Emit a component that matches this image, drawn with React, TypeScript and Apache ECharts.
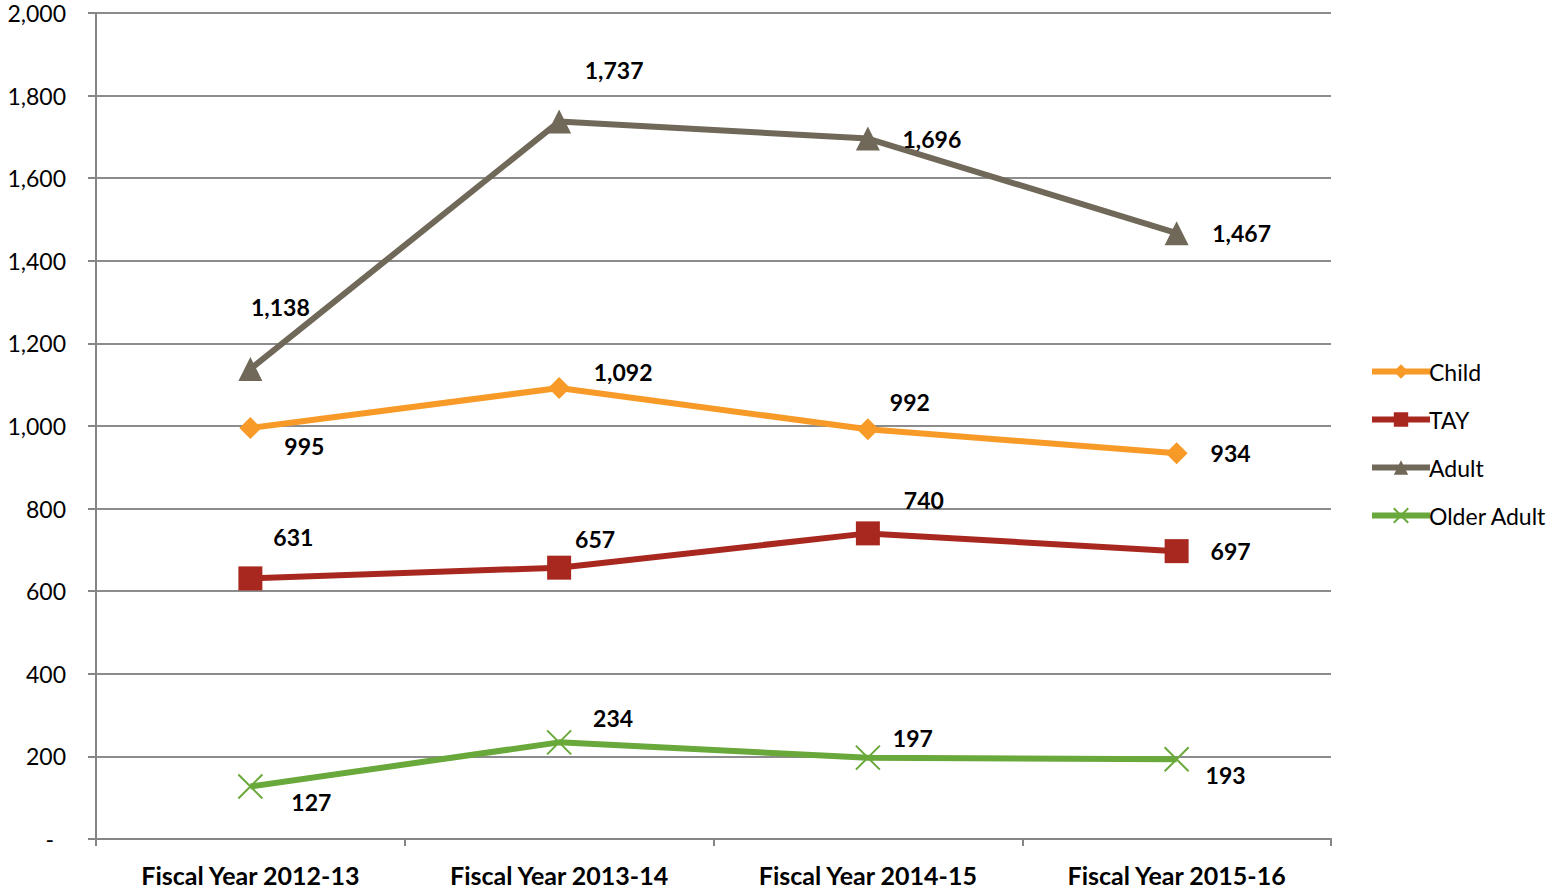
import React, { useEffect, useRef } from "react";
import * as echarts from "echarts";

const categories = ["Fiscal Year 2012-13", "Fiscal Year 2013-14", "Fiscal Year 2014-15", "Fiscal Year 2015-16"];
const childValues = [995, 1092, 992, 934];
const tayValues = [631, 657, 740, 697];
const adultValues = [1138, 1737, 1696, 1467];
const olderAdultValues = [127, 234, 197, 193];
const yTicks = { min: 0, max: 2000, interval: 200 };

const childOffsets = [[54, 18], [64, -16], [42, -27], [54, 0]];
const tayOffsets = [[43, -41], [36, -29], [56, -33], [54, 0]];
const adultOffsets = [[30, -62], [55, -52], [64, 0], [65, 0]];
const olderOffsets = [[61, 15], [54, -24], [45, -20], [49, 16]];

const FONT = "Lato, 'Open Sans', sans-serif";

function mkData(values: number[], offsets: number[][]) {
  return values.map((v, i) => ({
    value: v,
    label: { offset: offsets[i] },
  }));
}

export default function App() {
  const ref = useRef<HTMLDivElement>(null);
  useEffect(() => {
    if (!ref.current) return;
    const chart = echarts.init(ref.current, null, { renderer: "svg" });
    const labelCfg = {
      show: true,
      position: "inside",
      formatter: (p: any) => Number(p.value).toLocaleString("en-US"),
      fontFamily: FONT,
      fontWeight: "bold",
      fontSize: 23,
      color: "#000",
      align: "center",
      verticalAlign: "middle",
    };
    const mk = (name: string, color: string, values: number[], offsets: number[][], symbol: string, symbolSize: number, extra: any = {}) => ({
      name,
      type: "line",
      data: mkData(values, offsets),
      symbol,
      symbolSize,
      lineStyle: { color, width: 6 },
      itemStyle: { color, ...extra },
      label: labelCfg,
      emphasis: { disabled: true },
    });
    chart.setOption({
      animation: false,
      backgroundColor: "#fff",
      grid: { left: 96, right: 222, top: 13, bottom: 51, containLabel: false },
      legend: {
        orient: "vertical",
        left: 1364,
        top: 355,
        itemWidth: 58,
        itemHeight: 18,
        itemGap: 25,
        lineStyle: { width: 6 },
        textStyle: { fontFamily: FONT, fontSize: 23, color: "#000", padding: [0, 0, 0, -6] },
        data: ["Child", "TAY", "Adult", "Older Adult"],
      },
      xAxis: {
        type: "category",
        data: categories,
        boundaryGap: true,
        axisLine: { lineStyle: { color: "#868686", width: 2 } },
        axisTick: { show: true, length: 7, interval: 0, lineStyle: { color: "#868686", width: 2 } },
        axisLabel: { fontFamily: FONT, fontWeight: "bold", fontSize: 25, color: "#000", margin: 23, interval: 0 },
      },
      yAxis: {
        type: "value",
        min: yTicks.min,
        max: yTicks.max,
        interval: yTicks.interval,
        axisLine: { show: true, lineStyle: { color: "#868686", width: 2 } },
        axisTick: { show: true, length: 8, lineStyle: { color: "#868686", width: 2 } },
        splitLine: { lineStyle: { color: "#8c8c8c", width: 2 } },
        axisLabel: {
          fontFamily: FONT,
          fontSize: 23,
          color: "#000",
          margin: 30,
          formatter: (v: number) => (v === 0 ? "{d|-}" : v.toLocaleString("en-US")),
          rich: { d: { fontFamily: FONT, fontSize: 23, color: "#000", padding: [0, 12, 0, 0] } },
        },
      },
      series: [
        mk("Child", "#f79a27", childValues, childOffsets, "diamond", 22),
        mk("TAY", "#a8281f", tayValues, tayOffsets, "rect", 24),
        mk("Adult", "#706858", adultValues, adultOffsets, "triangle", 24),
        mk("Older Adult", "#69a83a", olderAdultValues, olderOffsets, "path://M0,0 L10,10 M10,0 L0,10", 24, {
          borderColor: "#69a83a",
          borderWidth: 2,
        }),
      ],
    });
    return () => chart.dispose();
  }, []);
  return <div ref={ref} style={{ width: 1553, height: 890, position: "absolute", left: 0, top: 0 }} />;
}
